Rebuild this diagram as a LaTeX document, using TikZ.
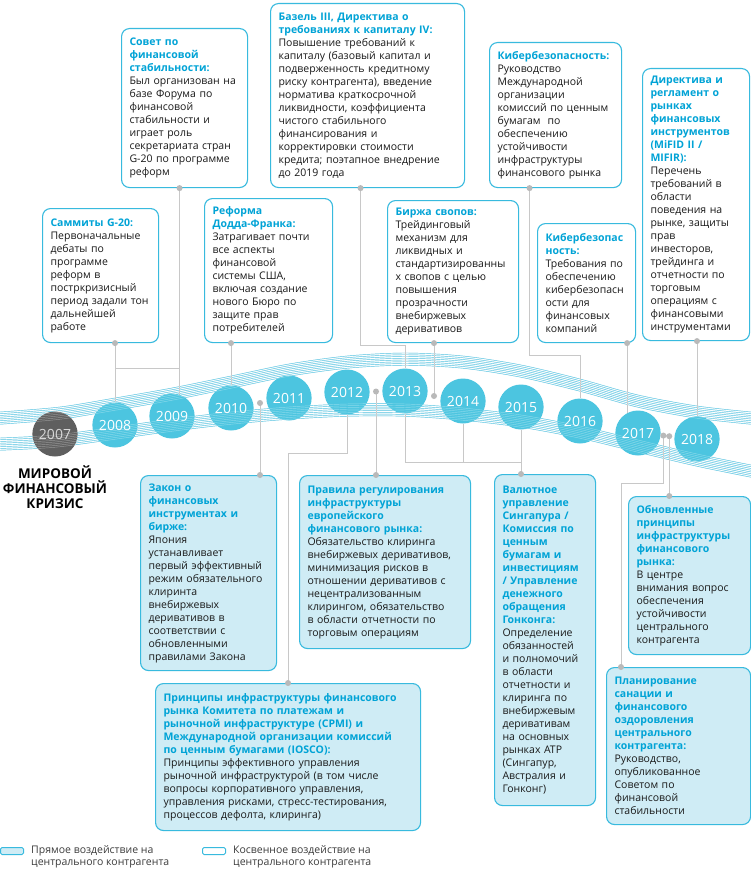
\documentclass[tikz,border=0pt]{standalone}
\usepackage{fontspec}
\setmainfont{Open Sans}
\usetikzlibrary{calc,backgrounds}
\definecolor{titlecyan}{RGB}{0,163,214}
\definecolor{boxcyan}{RGB}{56,186,222}
\definecolor{directfill}{RGB}{207,236,245}
\definecolor{yearcyan}{RGB}{76,197,224}
\definecolor{yeargray}{RGB}{95,95,95}
\definecolor{yeartext}{RGB}{215,215,215}
\definecolor{bandcyan}{RGB}{30,175,215}
\definecolor{linkgray}{RGB}{200,200,200}
\definecolor{dotgray}{RGB}{185,185,185}
\definecolor{legendtext}{RGB}{60,60,60}
\definecolor{bodytext}{RGB}{25,25,25}
\newcommand{\boxfont}{\fontsize{10.5pt}{13pt}\selectfont}
\newcommand{\yearfont}{\fontsize{14pt}{14pt}\selectfont}
\newcommand{\hd}[1]{{\color{titlecyan}\bfseries #1}}
\newcommand{\bandlines}[1]{%
    \foreach \i in {0,...,7}{%
        \draw[#1, yshift={-1.75pt*\i}] plot[smooth] coordinates {(0,412) (60,407) (115,398) (172,388) (231,376) (289,364) (347,356) (405,353) (463,356) (521,365) (580,379) (638,395) (697,406) (751,412)};
        \draw[#1, yshift={-1.75pt*\i}] plot[smooth] coordinates {(0,438) (55,435) (115,427) (172,419) (231,412) (289,407) (347,404) (405,404) (463,408) (521,415) (580,426) (638,440) (697,454) (751,465)};
    }}
\tikzset{
    common/.style={anchor=north west, draw=boxcyan, line width=1.1pt, rounded corners=8pt,
        inner xsep=8pt, inner ysep=0pt, align=left, font=\boxfont, text=bodytext},
    direct/.style={common, fill=directfill},
    indirect/.style={common, fill=white},
    year/.style={ellipse, fill=yearcyan, text=white, minimum width=43pt, minimum height=45pt, inner sep=0pt, font=\yearfont},
    crisisyear/.style={year, fill=yeargray, text=yeartext},
    band/.style={draw=bandcyan, line width=0.45pt},
    bandlight/.style={draw=white, line width=0.45pt, opacity=0.35},
    link/.style={draw=linkgray, line width=1pt},
    crisis/.style={align=center, font=\fontsize{13.5pt}{15pt}\selectfont\bfseries},
    legtext/.style={anchor=north west, align=left, inner sep=0pt, text=legendtext,
        font=\fontsize{10.5pt}{12.5pt}\selectfont},
    legkey/.style={anchor=north west, draw=boxcyan, line width=1pt, rounded corners=1.5pt,
        minimum width=23pt, minimum height=7pt, inner sep=0pt}
}
\usetikzlibrary{shapes.geometric}

\begin{document}
\begin{tikzpicture}[x=1pt, y=-1pt]
    \useasboundingbox (0,0) rectangle (751,872);

    % timeline years
    \node[crisisyear] (y2007) at (55,434) {2007};
    \node[year] (y2008) at (115,425) {2008};
    \node[year] (y2009) at (172,416) {2009};
    \node[year] (y2010) at (231,408) {2010};
    \node[year] (y2011) at (289,398) {2011};
    \node[year] (y2012) at (347,392) {2012};
    \node[year] (y2013) at (405,391) {2013};
    \node[year] (y2014) at (463,401) {2014};
    \node[year] (y2015) at (521,407) {2015};
    \node[year] (y2016) at (580,421) {2016};
    \node[year] (y2017) at (638,433) {2017};
    \node[year] (y2018) at (697,439) {2018};
    \bandlines{bandlight}

    \node[crisis] (crisis) at (55,487) {МИРОВОЙ\\ФИНАНСОВЫЙ\\КРИЗИС};

    % upper row (indirect)
    \node[indirect, text width=110pt, minimum height=159pt] (fsb) at (121,28)
        {\hd{Совет по\\финансовой\\стабильности:}\\Был организован на\\базе Форума по\\финансовой\\стабильности и\\играет роль\\секретариата стран\\G-20 по программе\\реформ};
    \node[indirect, text width=178pt, minimum height=184pt] (basel) at (270,3)
        {\hd{Базель III, Директива о\\требованиях к капиталу IV:}\\Повышение требований к\\капиталу (базовый капитал и\\подверженность кредитному\\риску контрагента), введение\\норматива краткосрочной\\ликвидности, коэффициента\\чистого стабильного\\финансирования и\\корректировки стоимости\\кредита; поэтапное внедрение\\до 2019 года};
    \node[indirect, text width=116pt, minimum height=145pt] (cyb1) at (489,42)
        {\hd{Кибербезопасность:}\\Руководство\\Международной\\организации\\комиссий по ценным\\бумагам\ \ по\\обеспечению\\устойчивости\\инфраструктуры\\финансового рынка};
    \node[indirect, text width=91pt, minimum height=272pt] (mifid) at (642,68)
        {\hd{Директива и\\регламент о\\рынках\\финансовых\\инструментов\\(MiFID II /\\MIFIR):}\\Перечень\\требований в\\области\\поведения на\\рынке, защиты\\прав\\инвесторов,\\трейдинга и\\отчетности по\\торговым\\операциям с\\финансовыми\\инструментами};
    \node[indirect, text width=100pt, minimum height=134pt] (g20) at (42,208)
        {\hd{Саммиты G-20:}\\Первоначальные\\дебаты по\\программе\\реформ в\\постркризисный\\период задали тон\\дальнейшей\\работе};
    \node[indirect, text width=112pt, minimum height=144pt] (dodd) at (204,198)
        {\hd{Реформа\\Додда-Франка:}\\Затрагивает почти\\все аспекты\\финансовой\\системы США,\\включая создание\\нового Бюро по\\защите прав\\потребителей};
    \node[indirect, text width=115pt, minimum height=142pt] (swap) at (387,200)
        {\hd{Биржа свопов:}\\Трейдинговый\\механизм для\\ликвидных и\\стандартизированны\\х свопов с целью\\повышения\\прозрачности\\внебиржевых\\деривативов};
    \node[indirect, text width=82pt, minimum height=119pt] (cyb2) at (537,223)
        {\hd{Кибербезопас\\ность:}\\Требования по\\обеспечению\\кибербезопасн\\ости для\\финансовых\\компаний};

    % lower row (direct)
    \node[direct, text width=120pt, minimum height=195pt] (jfiea) at (140,475)
        {\hd{Закон о\\финансовых\\инструментах и\\бирже:}\\Япония\\устанавливает\\первый эффективный\\режим обязательного\\клиринта\\внебиржевых\\деривативов в\\соответствии с\\обновленными\\правилами Закона};
    \node[direct, text width=155pt, minimum height=173pt] (emir) at (299,475)
        {\hd{Правила регулирования\\инфраструктуры\\европейского\\финансового рынка:}\\Обязательство клиринга\\внебиржевых деривативов,\\минимизация рисков в\\отношении деривативов с\\нецентрализованным\\клирингом, обязательство\\в области отчетности по\\торговым операциям};
    \node[direct, text width=85pt, minimum height=331pt] (asia) at (494,474)
        {\hd{Валютное\\управление\\Сингапура /\\Комиссия по\\ценным\\бумагам и\\инвестициям\\/ Управление\\денежного\\обращения\\Гонконга:}\\Определение\\обязанностей\\и полномочий\\в области\\отчетности и\\клиринга по\\внебиржевым\\деривативам\\на основных\\рынках АТР\\(Сингапур,\\Австралия и\\Гонконг)};
    \node[direct, text width=106pt, minimum height=158pt] (pfmi) at (628,496)
        {\hd{Обновленные\\принципы\\инфраструктуры\\финансового\\рынка:}\\В центре\\внимания вопрос\\обеспечения\\устойчивости\\центрального\\контрагента};
    \node[direct, text width=128pt, minimum height=157pt] (ccprr) at (606,667)
        {\hd{Планирование\\санации и\\финансового\\оздоровления\\центрального\\контрагента:}\\Руководство,\\опубликованное\\Советом по\\финансовой\\стабильности};
    \node[direct, text width=249pt, minimum height=147pt] (cpmi) at (155,683)
        {\hd{Принципы инфраструктуры финансового\\рынка Комитета по платежам и\\рыночной инфраструктуре (CPMI) и\\Международной организации комиссий\\по ценным бумагами (IOSCO):}\\Принципы эффективного управления\\рыночной инфраструктурой (в том числе\\вопросы корпоративного управления,\\управления рисками, стресс-тестирования,\\процессов дефолта, клиринга)};

    % junctions and free ends
    \coordinate (j0809) at (0,368);
    \coordinate (j13) at (0,345);
    \coordinate (j16) at (0,355);
    \coordinate (j12) at (0,453);
    \coordinate (j1315) at (0,462);
    \coordinate (j18) at (0,483);
    \coordinate (e1011) at ($(y2010)!0.5!(y2011)$);
    \coordinate (e1213) at ($(y2012)!0.5!(y2013)$);
    \coordinate (e1314) at ($(y2013)!0.5!(y2014)$);
    \coordinate (e1718a) at ($(y2017)!0.43!(y2018)$);
    \coordinate (e1718b) at ($(y2017)!0.53!(y2018)$);
    \coordinate (pfsb) at ([xshift=-5pt]fsb.south);
    \coordinate (pbasel) at ([xshift=-7pt]basel.south);
    \coordinate (pcyb1) at ([xshift=-26pt]cyb1.south);
    \coordinate (pcyb2) at ([xshift=-9pt]cyb2.south east);
    \coordinate (pccprr) at ([xshift=15pt]ccprr.north west);

    \begin{pgfonlayer}{background}
        \fill[white] (0,0) rectangle (751,872);
        \bandlines{band}
        \draw[link] (y2008 |- g20.south) -- (y2008);
        \draw[link] (y2008 |- j0809) -- (pfsb |- j0809);
        \draw[link] (pfsb) -- (pfsb |- y2009);
        \draw[link] (y2010 |- dodd.south) -- (y2010);
        \draw[link] (pbasel) -- (pbasel |- j13) -- (y2013 |- j13) -- (y2013);
        \draw[link] (e1314 |- swap.south) -- (e1314);
        \draw[link] (pcyb1) -- (pcyb1 |- j16) -- (y2016 |- j16) -- (y2016);
        \draw[link] (pcyb2) -- (pcyb2 |- y2017);
        \draw[link] (y2018 |- mifid.south) -- (y2018);
        \draw[link] (e1011 |- jfiea.north) -- (e1011);
        \draw[link] (e1213 |- emir.north) -- (e1213);
        \draw[link] (cpmi.north) -- (cpmi.north |- j12) -- (y2012 |- j12) -- (y2012);
        \draw[link] (y2013) -- (y2013 |- j1315) -- (y2015 |- j1315);
        \draw[link] (y2014) -- (y2014 |- j1315);
        \draw[link] (y2015 |- asia.north) -- (y2015);
        \draw[link] (e1718b |- pfmi.north) -- (e1718b);
        \draw[link] (pccprr) -- (pccprr |- j18) -- (e1718a |- j18) -- (e1718a);
    \end{pgfonlayer}

    % dots
    \fill[dotgray] (y2008 |- g20.south) circle (3pt) (pfsb) circle (3pt)
        (y2010 |- dodd.south) circle (3pt) (pbasel) circle (3pt)
        (e1314 |- swap.south) circle (3pt) (pcyb1) circle (3pt)
        (pcyb2) circle (3pt) (y2018 |- mifid.south) circle (3pt)
        (e1011 |- jfiea.north) circle (3pt) (e1213 |- emir.north) circle (3pt)
        (cpmi.north) circle (3pt) (y2015 |- asia.north) circle (3pt)
        (e1718b |- pfmi.north) circle (3pt) (pccprr) circle (3pt)
        (e1011) circle (3pt) (e1213) circle (3pt) (e1314) circle (3pt)
        (e1718a) circle (3pt) (e1718b) circle (3pt);

    % legend
    \node[legkey, fill=directfill] (keyd) at (0,847) {};
    \node[legtext] (legd) at ([xshift=7pt, yshift=2pt]keyd.north east)
        {Прямое воздействие на\\центрального контрагента};
    \node[legkey, fill=white] (keyi) at (202,847) {};
    \node[legtext] (legi) at ([xshift=7pt, yshift=2pt]keyi.north east)
        {Косвенное воздействие на\\центрального контрагента};
\end{tikzpicture}
\end{document}
